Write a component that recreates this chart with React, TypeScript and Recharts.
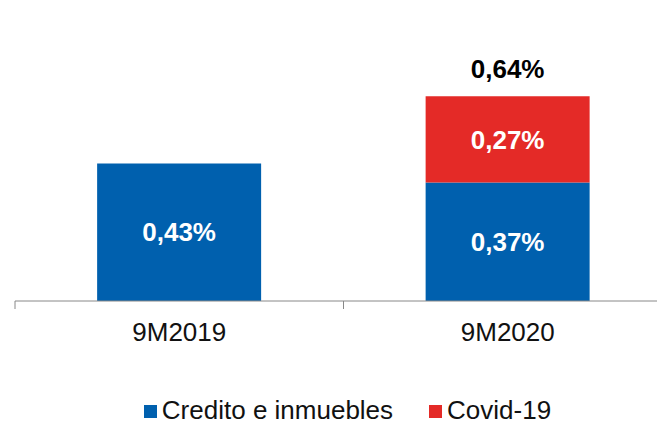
import React from "react";
import { BarChart, Bar, XAxis, YAxis, LabelList, Legend } from "recharts";

const categories = ["9M2019", "9M2020"];
const credito = [0.43, 0.37];
const covid = [null, 0.27];
const totals = [null, 0.64];

const BLUE = "#0060AE";
const RED = "#E42A27";
const FONT = "'Liberation Sans', Arial, sans-serif";

const data = categories.map((name, i) => ({
  name,
  credito: credito[i],
  covid: covid[i],
  total: totals[i],
}));

const pct = (v: any) => (v == null ? "" : Number(v).toFixed(2).replace(".", ",") + "%");

function CategoryTick(props: any) {
  const { x, y, payload, index } = props;
  const half = payload.offset ?? 164.25;
  return (
    <g>
      <line x1={x - half} x2={x - half} y1={y - 8} y2={y} stroke="#888" />
      {index === categories.length - 1 && (
        <line x1={x + half} x2={x + half} y1={y - 8} y2={y} stroke="#888" />
      )}
      <text x={x} y={y + 32} textAnchor="middle" fontSize={26} fontFamily={FONT} fill="#111">
        {payload.value}
      </text>
    </g>
  );
}

function LegendContent() {
  const items = [
    { label: "Credito e inmuebles", color: BLUE },
    { label: "Covid-19", color: RED },
  ];
  return (
    <div
      style={{
        display: "flex",
        justifyContent: "center",
        alignItems: "center",
        height: 30,
        paddingLeft: 8,
        fontFamily: FONT,
        fontSize: 26,
        color: "#111",
        gap: 36,
      }}
    >
      {items.map((it) => (
        <div key={it.label} style={{ display: "flex", alignItems: "center", gap: 5 }}>
          <span style={{ width: 13, height: 13, background: it.color, display: "inline-block", marginTop: 3 }} />
          <span>{it.label}</span>
        </div>
      ))}
    </div>
  );
}

export default function App() {
  return (
    <div style={{ width: 657, height: 425, overflow: "hidden", position: "relative", background: "#fff" }}>
      <style>{"body{margin:0}"}</style>
      <BarChart
        width={672}
        height={425}
        data={data}
        margin={{ top: 13, right: 0, bottom: 0, left: 15 }}
        barCategoryGap="25%"
      >
        <XAxis
          dataKey="name"
          axisLine={{ stroke: "#888" }}
          tickLine={false}
          tickSize={8}
          tickMargin={0}
          height={94}
          tick={<CategoryTick />}
          interval={0}
        />
        <YAxis hide domain={[0, 0.9]} />
        <Legend verticalAlign="bottom" height={30} content={<LegendContent />} />
        <Bar dataKey="credito" stackId="a" fill={BLUE} isAnimationActive={false}>
          <LabelList
            dataKey="credito"
            position="center"
            formatter={pct}
            fill="#fff"
            fontSize={26}
            fontWeight="bold"
            fontFamily={FONT}
          />
        </Bar>
        <Bar dataKey="covid" stackId="a" fill={RED} isAnimationActive={false}>
          <LabelList
            dataKey="covid"
            position="center"
            formatter={pct}
            fill="#fff"
            fontSize={26}
            fontWeight="bold"
            fontFamily={FONT}
          />
          <LabelList
            dataKey="total"
            position="top"
            offset={18}
            formatter={pct}
            fill="#000"
            fontSize={26}
            fontWeight="bold"
            fontFamily={FONT}
          />
        </Bar>
      </BarChart>
    </div>
  );
}
